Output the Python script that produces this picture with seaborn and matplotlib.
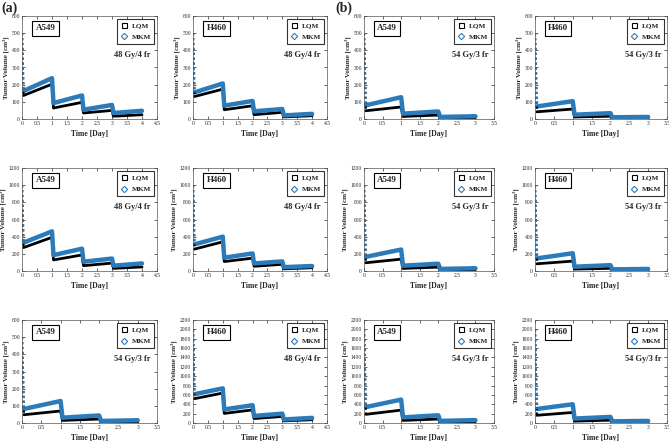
import matplotlib
matplotlib.use("Agg")
import matplotlib.pyplot as plt
from matplotlib.lines import Line2D
import seaborn as sns
import pandas as pd

# time points (days): fraction given at t=0,1,2,(3); volume falls over ~0.05 day
times_4fr = [0, 0.05, 1, 1.05, 2, 2.05, 3, 3.05, 4]
times_3fr = [0, 0.05, 1, 1.05, 2, 2.05, 3]

cells = ["A549", "H460", "A549", "H460",
         "A549", "H460", "A549", "H460",
         "A549", "H460", "A549", "H460"]
doses = ["48 Gy/4 fr", "48 Gy/4 fr", "54 Gy/3 fr", "54 Gy/3 fr",
         "48 Gy/4 fr", "48 Gy/4 fr", "54 Gy/3 fr", "54 Gy/3 fr",
         "54 Gy/3 fr", "48 Gy/4 fr", "54 Gy/3 fr", "54 Gy/3 fr"]
ymax = [600, 600, 600, 600,
        1200, 1200, 1200, 1200,
        600, 2200, 2200, 2200]
ystep = [100, 100, 100, 100,
         200, 200, 200, 200,
         100, 200, 200, 200]

lqm = [
    [500, 137, 203, 64, 97, 35, 50, 16, 25],
    [500, 131, 174, 54, 77, 25, 39, 12, 19],
    [500, 48, 70, 15, 23, 5, 7],
    [500, 42, 58, 12, 16, 4, 5],
    [1000, 273, 392, 129, 187, 62, 92, 31, 47],
    [1000, 255, 340, 110, 150, 55, 78, 25, 38],
    [1000, 96, 138, 30, 45, 10, 14],
    [1000, 84, 115, 22, 31, 7, 9],
    [500, 48, 70, 15, 23, 5, 7],
    [2000, 520, 640, 205, 280, 95, 140, 45, 70],
    [2000, 185, 275, 55, 85, 18, 28],
    [2000, 165, 225, 40, 60, 12, 18],
]
mkm = [
    [500, 163, 238, 93, 137, 54, 82, 35, 48],
    [500, 155, 207, 78, 105, 45, 58, 21, 30],
    [500, 80, 127, 31, 44, 12, 16],
    [500, 73, 104, 25, 34, 10, 12],
    [1000, 330, 462, 185, 260, 108, 145, 62, 88],
    [1000, 310, 400, 155, 205, 88, 112, 45, 58],
    [1000, 165, 250, 62, 85, 24, 32],
    [1000, 147, 207, 50, 68, 19, 24],
    [500, 82, 128, 31, 44, 12, 16],
    [2000, 615, 740, 290, 380, 150, 200, 75, 110],
    [2000, 340, 500, 120, 165, 45, 62],
    [2000, 300, 400, 95, 130, 36, 45],
]

BLUE = "#2b7bbb"
SERIF = "Liberation Serif"

sns.set_theme(style="ticks")
plt.rcParams["font.family"] = [SERIF, "DejaVu Serif"]

fig = plt.figure(figsize=(6.69, 4.41), dpi=100)
W, H = 669, 441
col_left = [22, 193, 364, 535]
col_w = [135, 134, 130, 132]
row_top = [16, 168, 320]
row_h = 103

for i in range(12):
    r, c = divmod(i, 4)
    ax = fig.add_axes([col_left[c] / W, 1 - (row_top[r] + row_h) / H,
                       col_w[c] / W, row_h / H])
    t = times_4fr if "4 fr" in doses[i] else times_3fr
    df = pd.DataFrame({"t": t * 2,
                       "v": lqm[i] + mkm[i],
                       "model": ["LQM"] * len(t) + ["MKM"] * len(t)})
    after = df[df["t"] > 0]
    sns.lineplot(data=after, x="t", y="v", hue="model",
                 palette={"LQM": "black", "MKM": BLUE},
                 size="model", sizes={"LQM": 2.0, "MKM": 3.2},
                 legend=False, ax=ax, estimator=None, sort=False)
    # initial steep drop drawn sparse (dotted), as sampled markers
    first = df[df["t"] <= 0.05]
    for m, col in (("LQM", "black"), ("MKM", BLUE)):
        seg = first[first["model"] == m]
        ax.plot(seg["t"], seg["v"], color=col, lw=1.6, ls=(0, (1, 1.2)))

    xmax = 4.5 if "4 fr" in doses[i] else 3.5
    ax.set_xlim(0, xmax)
    ax.set_ylim(0, ymax[i])
    ax.set_xticks([k * 0.5 for k in range(int(xmax / 0.5) + 1)])
    ax.set_xticklabels([("%g" % (k * 0.5)) for k in range(int(xmax / 0.5) + 1)])
    ax.set_yticks(range(0, ymax[i] + 1, ystep[i]))
    ax.tick_params(direction="in", length=2, width=0.5, labelsize=4,
                   top=True, right=True, pad=1.5)
    for s in ax.spines.values():
        s.set_linewidth(0.5)
        s.set_color("#555555")
    ax.set_xlabel("Time [Day]", fontsize=5.5, fontweight="bold", labelpad=2.5)
    ax.set_ylabel("Tumor Volume [cm³]", fontsize=5, fontweight="bold", labelpad=2)

    ax.text(0.1, 0.88, cells[i], transform=ax.transAxes, fontsize=6.5,
            fontweight="bold", ha="left", va="center",
            bbox=dict(boxstyle="square,pad=0.35", fc="white", ec="black", lw=0.8))
    ax.text(0.955, 0.62, doses[i], transform=ax.transAxes, fontsize=6,
            fontweight="bold", ha="right", va="center")
    handles = [Line2D([], [], ls="none", marker="s", mfc="white", mec="black",
                      ms=3.6, mew=0.8),
               Line2D([], [], ls="none", marker="D", mfc="white", mec=BLUE,
                      ms=3.2, mew=0.8)]
    leg = ax.legend(handles, ["LQM", "MKM"], loc="upper right",
                    frameon=True, fancybox=False, borderpad=0.5,
                    labelspacing=0.8, handletextpad=0.5, handlelength=1.0,
                    borderaxespad=0.35, prop={"weight": "bold", "size": 5.2})
    leg.get_frame().set_edgecolor("black")
    leg.get_frame().set_linewidth(0.8)

fig.text(1 / W, 1 - 8 / H, "(a)", fontsize=10, fontweight="bold", va="center")
fig.text(335 / W, 1 - 8 / H, "(b)", fontsize=10, fontweight="bold", va="center")

fig.savefig("out.png", dpi=100)
